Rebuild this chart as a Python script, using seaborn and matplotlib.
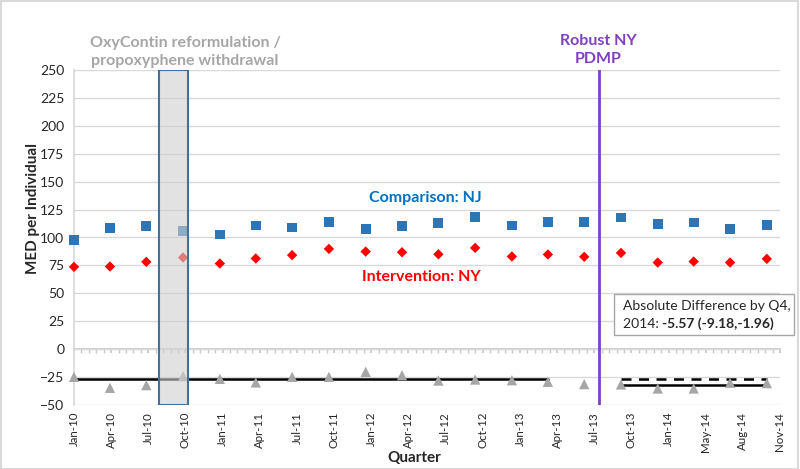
import pandas as pd
import matplotlib.pyplot as plt
import matplotlib.dates as mdates
from matplotlib.patches import Rectangle
import seaborn as sns

# --- DONNEES ---
quarters = pd.date_range("2010-01-01", "2014-10-01", freq="QS")
nj_comparison = [97.6, 108.6, 110.1, 105.9, 102.7, 110.7, 108.9, 114.0, 107.7, 110.1,
                 113.1, 118.2, 110.7, 113.7, 114.0, 117.9, 112.2, 113.4, 107.4, 111.0]
ny_intervention = [73.7, 74.0, 78.2, 82.1, 76.7, 81.2, 84.2, 89.8, 87.4, 86.8,
                   85.0, 90.7, 83.0, 84.8, 82.7, 86.2, 77.6, 78.5, 77.6, 80.9]
difference = [-24.8, -34.6, -32.2, -24.2, -26.6, -29.8, -24.8, -24.8, -20.3, -23.3,
              -28.1, -27.2, -27.8, -29.2, -31.3, -31.6, -35.2, -35.2, -30.1, -30.4]
pre_level = -26.9             # Jan-10 -> Apr-13
counterfactual_level = -26.9  # Oct-13 -> Oct-14 (pointilles)
post_level = -32.5            # Oct-13 -> Oct-14
tick_dates = [pd.Timestamp("2010-01-01") + pd.Timedelta(days=93 * k) for k in range(20)]
box_start, box_end = pd.Timestamp("2010-08-02"), pd.Timestamp("2010-10-13")
pdmp_date = pd.Timestamp("2013-08-06")

df = pd.DataFrame({"Quarter": quarters, "NJ": nj_comparison,
                   "NY": ny_intervention, "Diff": difference})

# --- CONFIGURATION VISUELLE ---
sns.set_theme(style="white")
plt.rcParams['font.family'] = ['Lato', 'DejaVu Sans']

fig = plt.figure(figsize=(8, 4.69), dpi=100)
ax = fig.add_axes([74 / 800, 1 - 405 / 469, 706 / 800, 335 / 469])

ax.set_ylim(-50, 250)
ax.set_yticks(range(-50, 251, 25))
ax.set_xlim(tick_dates[0], tick_dates[-1])
ax.grid(axis='y', color='#d9d9d9', lw=1)
ax.set_axisbelow(True)

sns.scatterplot(data=df, x="Quarter", y="NJ", marker="s", s=50, color="#2e75b6",
                edgecolor="none", ax=ax, zorder=3, clip_on=False)
sns.scatterplot(data=df, x="Quarter", y="NY", marker="D", s=28, color="#ff0000",
                edgecolor="none", ax=ax, zorder=3, clip_on=False)

# lignes de niveau
ax.plot([quarters[0], quarters[13]], [pre_level, pre_level], color='black', lw=1.8, zorder=2)
ax.plot([quarters[15], quarters[19]], [counterfactual_level, counterfactual_level],
        color='black', lw=1.8, ls=(0, (4, 3)), zorder=2)
ax.plot([quarters[15], quarters[19]], [post_level, post_level], color='black', lw=1.8, zorder=2)

sns.scatterplot(data=df, x="Quarter", y="Diff", marker="^", s=55, color="#a6a6a6",
                edgecolor="none", ax=ax, zorder=4, clip_on=False)

# boite OxyContin
ax.axvspan(box_start, box_end, facecolor='#d0d0d0', alpha=0.6, edgecolor='none', zorder=5)
ax.axvspan(box_start, box_end, facecolor='none', edgecolor='#41719c', lw=1.5, zorder=6)
# PDMP
ax.axvline(pdmp_date, color='#8040bf', lw=2, zorder=6)

ax.set_xticks(tick_dates)
ax.xaxis.set_major_formatter(mdates.DateFormatter('%b-%y'))
ax.tick_params(axis='x', rotation=90, labelsize=8.3, length=0, pad=5, labelcolor='#262626')
ax.tick_params(axis='y', labelsize=10, length=4, color='#d9d9d9', labelcolor='#262626', pad=3)
ax.set_xlabel("")
ax.set_ylabel("")
for s in ['top', 'right', 'bottom']:
    ax.spines[s].set_visible(False)
ax.spines['left'].set_color('#d9d9d9')

# axe horizontal a y=0 avec petites graduations
sec = ax.secondary_xaxis(50 / 300)
sec.set_xticks(tick_dates)
sec.set_xticks([tick_dates[0] + pd.Timedelta(days=93 * k / 5) for k in range(96)], minor=True)
sec.tick_params(which='both', direction='out', length=3, color='#c8c8c8', labelbottom=False)
sec.spines['bottom'].set_color('#c8c8c8')

# textes
fig.text(425 / 800, 1 - 198 / 469, "Comparison: NJ", color='#0070c0', fontsize=11.5,
         fontweight='bold', ha='center', va='center')
fig.text(421 / 800, 1 - 277 / 469, "Intervention: NY", color='#ff0000', fontsize=11.5,
         fontweight='bold', ha='center', va='center')
fig.text(185 / 800, 1 - 52 / 469, "OxyContin reformulation /\npropoxyphene withdrawal",
         color='#a6a6a6', fontsize=11.5, fontweight='bold', ha='center', va='center',
         linespacing=1.35)
fig.text(598 / 800, 1 - 50 / 469, "Robust NY\nPDMP", color='#8040bf', fontsize=11.5,
         fontweight='bold', ha='center', va='center', linespacing=1.35)

fig.text(33 / 800, 1 - 208 / 469, "MED per Individual", rotation=90, fontsize=11,
         fontweight='bold', ha='center', va='center')
fig.text(414 / 800, 1 - 458 / 469, "Quarter", fontsize=11, fontweight='bold',
         ha='center', va='center')

# encadre difference absolue
fig.patches.append(Rectangle((614 / 800, 1 - 335 / 469), 180 / 800, 41 / 469,
                             transform=fig.transFigure, facecolor='white',
                             edgecolor='#a6a6a6', lw=1, zorder=10))
fig.text(623 / 800, 1 - 306 / 469, "Absolute Difference by Q4,", fontsize=10,
         ha='left', va='center', zorder=11)
t2 = fig.text(623 / 800, 1 - 324 / 469, "2014: ", fontsize=10, ha='left',
              va='center', zorder=11)
fig.canvas.draw()
ext = t2.get_window_extent()
fig.text(ext.x1 / fig.bbox.width, ext.y0 / fig.bbox.height, "-5.57 (-9.18,-1.96)",
         fontsize=10, fontweight='bold', ha='left', va='bottom', zorder=11)

# cadre de la figure
fig.patches.append(Rectangle((0.001, 0.001), 0.997, 0.997, transform=fig.transFigure,
                             facecolor='none', edgecolor='#d9d9d9', lw=1.5))

fig.savefig("out.png", dpi=100)
